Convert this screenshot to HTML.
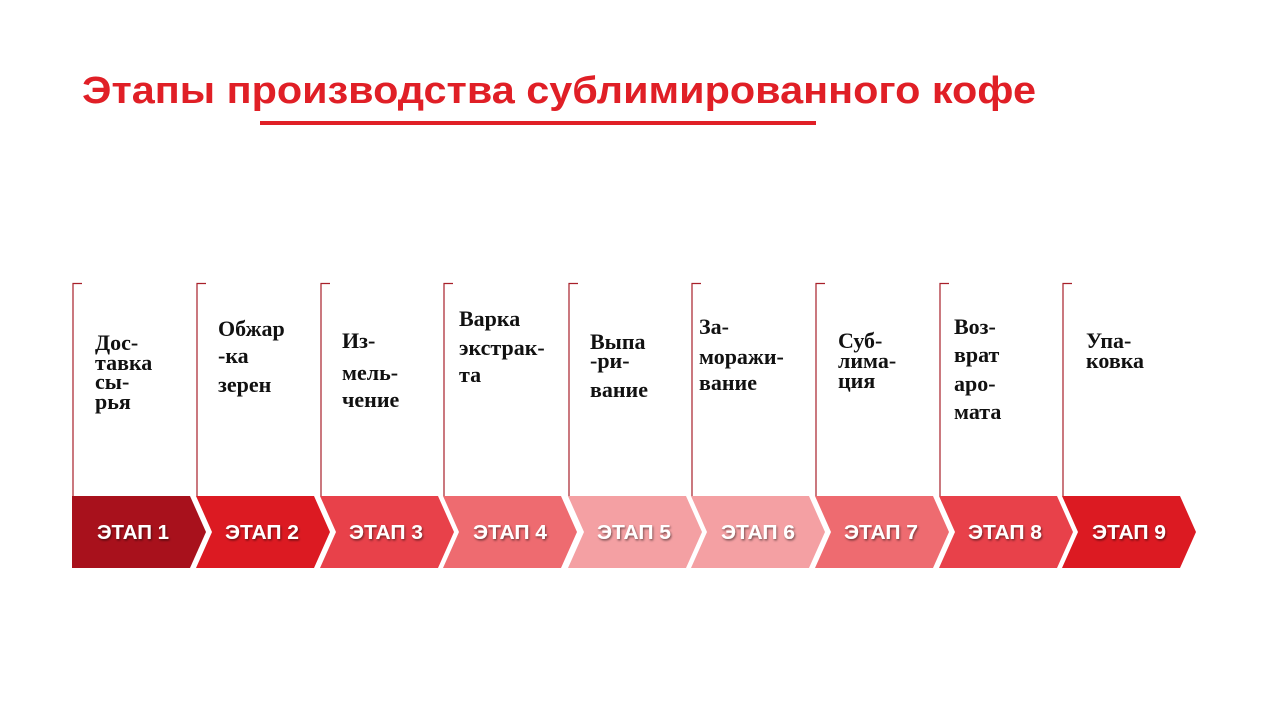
<!DOCTYPE html>
<html><head><meta charset="utf-8"><style>html,body{margin:0;padding:0;background:#fff}svg{display:block}</style></head>
<body>
<svg width="1280" height="720" viewBox="0 0 1280 720" xmlns="http://www.w3.org/2000/svg">
<defs><filter id="sh" x="-10%" y="-30%" width="130%" height="160%"><feDropShadow dx="1" dy="1.5" stdDeviation="1" flood-color="#000" flood-opacity="0.5"/></filter></defs>
<text x="82" y="103" font-family="Liberation Sans, sans-serif" font-weight="bold" font-size="38" fill="#e01f26" textLength="954" lengthAdjust="spacingAndGlyphs">Этапы производства сублимированного кофе</text>
<rect x="260" y="121" width="556" height="4" fill="#e01f26"/>
<g stroke="#a8202a" stroke-width="1.2" fill="none">
<path d="M73,496V283.5H82"/><path d="M197,496V283.5H206"/><path d="M321,496V283.5H330"/><path d="M444,496V283.5H453"/><path d="M569,496V283.5H578"/><path d="M692,496V283.5H701"/><path d="M816,496V283.5H825"/><path d="M940,496V283.5H949"/><path d="M1063,496V283.5H1072"/>
</g>
<g>
<path d="M72,496H190L206,532L190,568H72Z" fill="#a8111c"/>
<path d="M196,496H314L330,532L314,568H196L212,532Z" fill="#dc1a22"/>
<path d="M320,496H438L454,532L438,568H320L336,532Z" fill="#e8414a"/>
<path d="M443,496H561L577,532L561,568H443L459,532Z" fill="#ee6b70"/>
<path d="M568,496H686L702,532L686,568H568L584,532Z" fill="#f4a0a3"/>
<path d="M691,496H809L825,532L809,568H691L707,532Z" fill="#f4a0a3"/>
<path d="M815,496H933L949,532L933,568H815L831,532Z" fill="#ee6b70"/>
<path d="M939,496H1057L1073,532L1057,568H939L955,532Z" fill="#e8414a"/>
<path d="M1062,496H1180L1196,532L1180,568H1062L1078,532Z" fill="#dc1a22"/>
</g>
<g font-family="Liberation Sans, sans-serif" font-weight="bold" font-size="20" fill="#fff" filter="url(#sh)">
<text x="97" y="539" textLength="72" lengthAdjust="spacingAndGlyphs">ЭТАП 1</text><text x="225" y="539" textLength="74" lengthAdjust="spacingAndGlyphs">ЭТАП 2</text><text x="349" y="539" textLength="74" lengthAdjust="spacingAndGlyphs">ЭТАП 3</text><text x="473" y="539" textLength="74" lengthAdjust="spacingAndGlyphs">ЭТАП 4</text><text x="597" y="539" textLength="74" lengthAdjust="spacingAndGlyphs">ЭТАП 5</text><text x="721" y="539" textLength="74" lengthAdjust="spacingAndGlyphs">ЭТАП 6</text><text x="844" y="539" textLength="74" lengthAdjust="spacingAndGlyphs">ЭТАП 7</text><text x="968" y="539" textLength="74" lengthAdjust="spacingAndGlyphs">ЭТАП 8</text><text x="1092" y="539" textLength="74" lengthAdjust="spacingAndGlyphs">ЭТАП 9</text>
</g>
<g font-family="Liberation Serif, serif" font-weight="bold" font-size="22" fill="#111">
<text x="95" y="350">Дос-</text><text x="95" y="370">тавка</text><text x="95" y="389">сы-</text><text x="95" y="409">рья</text>
<text x="218" y="336">Обжар</text><text x="218" y="363">-ка</text><text x="218" y="392">зерен</text>
<text x="342" y="348">Из-</text><text x="342" y="380">мель-</text><text x="342" y="407">чение</text>
<text x="459" y="326">Варка</text><text x="459" y="355">экстрак-</text><text x="459" y="382">та</text>
<text x="590" y="349">Выпа</text><text x="590" y="368">-ри-</text><text x="590" y="397">вание</text>
<text x="699" y="334">За-</text><text x="699" y="364">моражи-</text><text x="699" y="390">вание</text>
<text x="838" y="348">Суб-</text><text x="838" y="368">лима-</text><text x="838" y="388">ция</text>
<text x="954" y="334">Воз-</text><text x="954" y="362">врат</text><text x="954" y="391">аро-</text><text x="954" y="419">мата</text>
<text x="1086" y="348">Упа-</text><text x="1086" y="368">ковка</text>
</g>
</svg>
</body></html>
